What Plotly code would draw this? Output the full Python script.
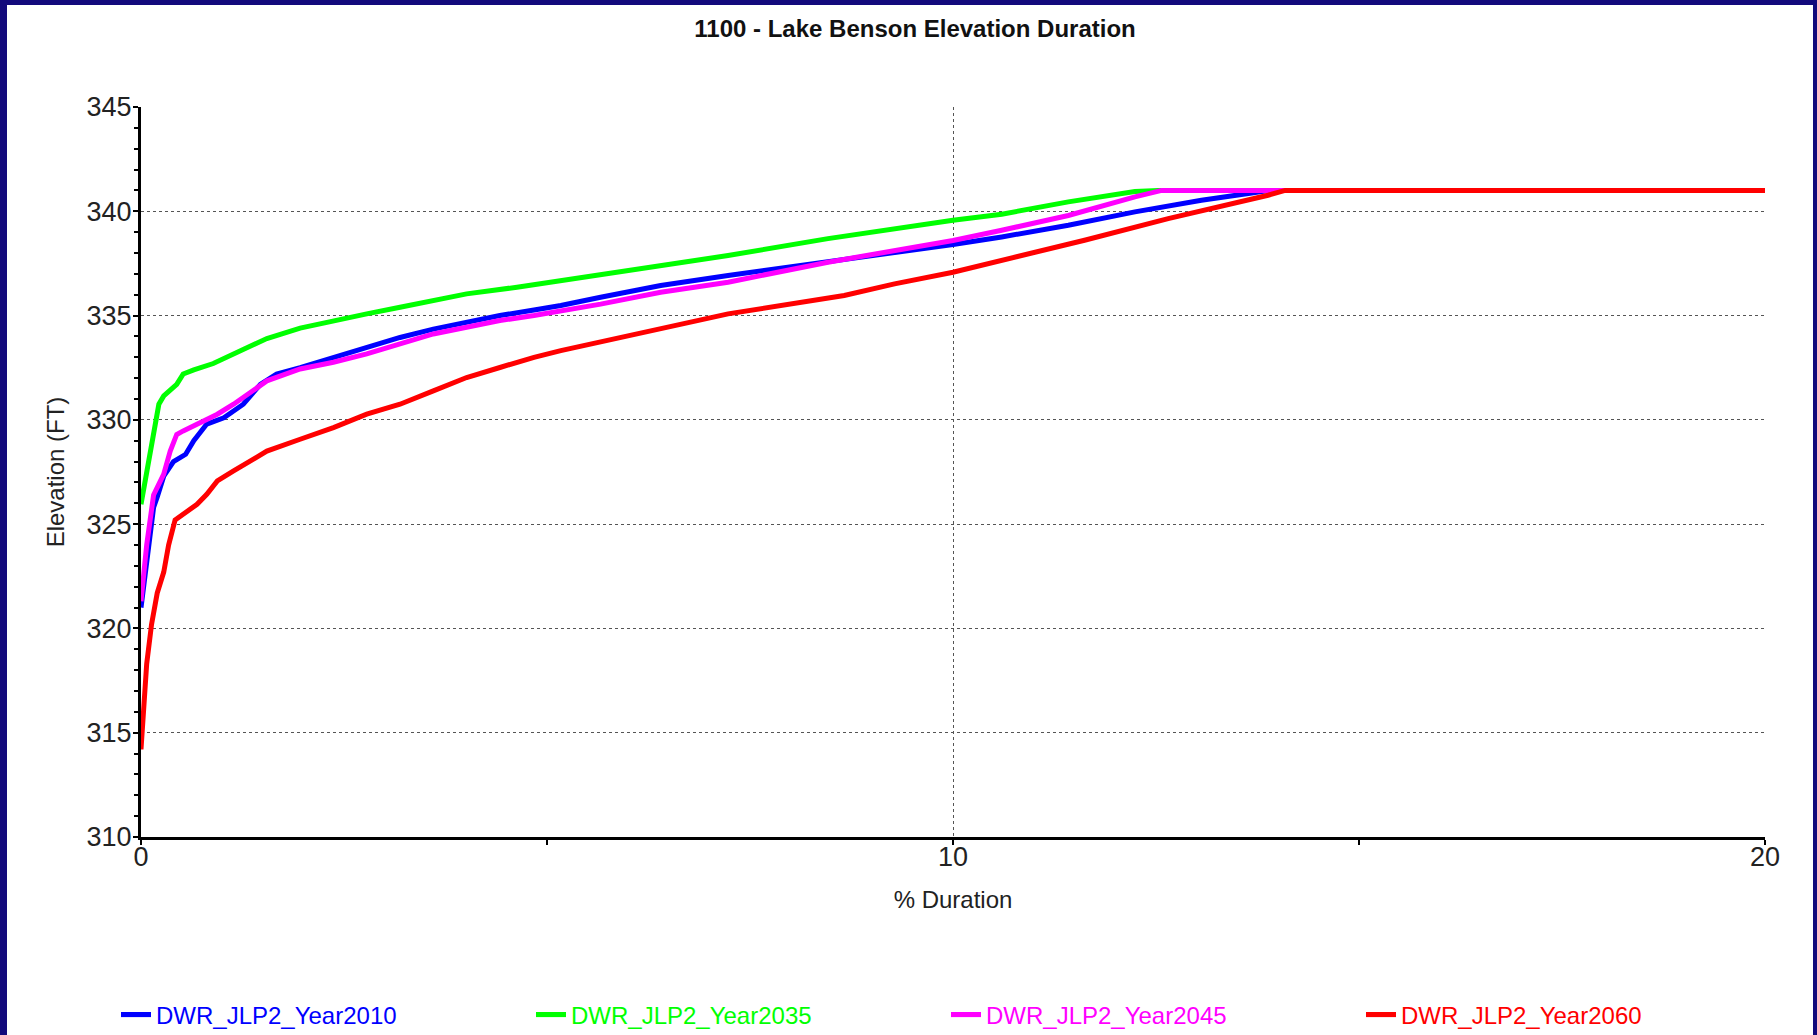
import plotly.graph_objects as go

# Elevation-duration curves for Lake Benson, four planning scenarios
series_names = ["DWR_JLP2_Year2010", "DWR_JLP2_Year2035", "DWR_JLP2_Year2045", "DWR_JLP2_Year2060"]
series_colors = ["#0000ff", "#00ff00", "#ff00ff", "#ff0000"]

dur_2010 = [0, 0.07, 0.155, 0.2, 0.28, 0.4, 0.55, 0.65, 0.81, 1.02, 1.26, 1.47, 1.67, 1.96, 2.37, 2.78,
            3.19, 3.6, 4.01, 4.42, 4.84, 5.17, 5.66, 6.4, 7.23, 8.46, 9.28, 10.0, 10.6, 11.42, 12.24,
            13.06, 13.68, 13.88, 20]
elev_2010 = [321.0, 323.4, 325.8, 326.3, 327.3, 328.0, 328.35, 329.0, 329.8, 330.1, 330.75, 331.7, 332.2,
             332.5, 333.0, 333.5, 333.95, 334.35, 334.7, 335.0, 335.27, 335.48, 335.88, 336.44, 336.92,
             337.56, 338.04, 338.41, 338.77, 339.33, 339.97, 340.53, 340.88, 341.0, 341.0]

dur_2035 = [0, 0.09, 0.115, 0.175, 0.22, 0.28, 0.44, 0.52, 0.65, 0.89, 1.14, 1.55, 1.96, 2.37, 2.78, 3.19,
            3.6, 4.01, 4.63, 5.17, 5.66, 6.4, 7.23, 8.46, 9.28, 10.0, 10.6, 11.42, 12.24, 12.53, 20]
elev_2035 = [325.95, 328.0, 328.5, 330.05, 330.75, 331.15, 331.7, 332.2, 332.4, 332.7, 333.15, 333.9,
             334.4, 334.76, 335.08, 335.4, 335.7, 336.04, 336.36, 336.68, 337.0, 337.4, 337.88, 338.69,
             339.17, 339.57, 339.86, 340.45, 340.95, 341.0, 341.0]

dur_2045 = [0, 0.07, 0.155, 0.24, 0.28, 0.36, 0.4, 0.44, 0.52, 0.73, 0.94, 1.14, 1.35, 1.55, 1.96, 2.37,
            2.78, 3.19, 3.6, 4.01, 4.42, 4.84, 5.17, 5.66, 6.4, 7.23, 8.46, 9.28, 10.0, 10.6, 11.42,
            12.24, 12.57, 20]
elev_2045 = [321.3, 324.0, 326.4, 327.0, 327.4, 328.5, 329.0, 329.3, 329.47, 329.87, 330.27, 330.75,
             331.31, 331.87, 332.44, 332.76, 333.16, 333.64, 334.12, 334.44, 334.76, 335.0, 335.2,
             335.55, 336.12, 336.6, 337.56, 338.12, 338.6, 339.09, 339.8, 340.69, 341.0, 341.0]

dur_2060 = [0, 0.07, 0.13, 0.2, 0.28, 0.34, 0.42, 0.56, 0.69, 0.81, 0.94, 1.14, 1.35, 1.55, 1.96, 2.37,
            2.78, 3.19, 3.6, 4.01, 4.42, 4.84, 5.17, 5.66, 6.4, 7.23, 8.66, 9.28, 10.0, 10.6, 11.62,
            12.65, 13.47, 13.88, 14.09, 20]
elev_2060 = [314.2, 318.3, 320.2, 321.7, 322.7, 324.0, 325.2, 325.6, 325.95, 326.43, 327.07, 327.55,
             328.03, 328.5, 329.07, 329.63, 330.27, 330.75, 331.39, 332.03, 332.51, 333.0, 333.32,
             333.75, 334.36, 335.08, 335.96, 336.52, 337.08, 337.64, 338.61, 339.65, 340.37, 340.77,
             341.0, 341.0]

durations = [dur_2010, dur_2035, dur_2045, dur_2060]
elevations = [elev_2010, elev_2035, elev_2045, elev_2060]

x_ticks = [0, 10, 20]
y_ticks = [310, 315, 320, 325, 330, 335, 340, 345]

FONT = "Liberation Sans, Arial, sans-serif"
W, H = 1817, 1035
ML, MR, MT, MB = 141, 52, 107, 198
PW, PH = W - ML - MR, H - MT - MB
NAVY = "#130a7c"

fig = go.Figure()
for name, color, xs, ys in zip(series_names, series_colors, durations, elevations):
    fig.add_trace(go.Scatter(
        x=xs, y=ys, mode="lines",
        name=f'<span style="color:{color}">{name}</span>',
        line=dict(color=color, width=5),
    ))


def px_x(px):
    return (px - ML) / PW


def px_y(py):
    return (H - MB - py) / PH


# dark frame on the left, top and right edges of the page
frame = [
    (px_x(-20), px_y(H + 20), px_x(7), px_y(-20)),
    (px_x(-20), px_y(5), px_x(W + 20), px_y(-20)),
    (px_x(W - 4), px_y(H + 20), px_x(W + 20), px_y(-20)),
]
shapes = [dict(type="rect", xref="paper", yref="paper", x0=a, y0=b, x1=c, y1=d,
               fillcolor=NAVY, line=dict(width=0), layer="below") for a, b, c, d in frame]

axis_common = dict(
    showline=True, linecolor="black", linewidth=3, mirror=False,
    ticks="outside", ticklen=5, tickwidth=2, tickcolor="black",
    showgrid=True, gridcolor="#555555", gridwidth=1, griddash="dot",
    zeroline=False,
    tickfont=dict(family=FONT, size=27, color="#222222"),
)

fig.update_layout(
    width=W, height=H,
    margin=dict(l=ML, r=MR, t=MT, b=MB, autoexpand=False),
    paper_bgcolor="white", plot_bgcolor="white",
    font=dict(family=FONT, color="#222222"),
    title=dict(text="<b>1100 - Lake Benson Elevation Duration</b>",
               font=dict(family=FONT, size=24, color="#111111"),
               x=0.5036, xanchor="center", xref="container",
               y=1 - 29 / H, yanchor="middle", yref="container"),
    xaxis=dict(range=[0, 20], tickvals=x_ticks, ticklabelstandoff=-11,
               minor=dict(dtick=5, ticks="outside", ticklen=5, tickwidth=2, tickcolor="black", showgrid=False),
               title=dict(text="% Duration", font=dict(family=FONT, size=24, color="#222222"), standoff=20),
               **axis_common),
    yaxis=dict(range=[310, 345], tickvals=y_ticks, ticklabelstandoff=-4,
               minor=dict(dtick=1, ticks="outside", ticklen=4, tickwidth=2, tickcolor="black", showgrid=False),
               title=dict(text="Elevation (FT)", font=dict(family=FONT, size=24, color="#222222"), standoff=16),
               **axis_common),
    legend=dict(orientation="h", x=px_x(116), xanchor="left", y=px_y(1015), yanchor="middle",
                entrywidth=370, entrywidthmode="pixels",
                font=dict(family=FONT, size=24), bgcolor="rgba(0,0,0,0)", borderwidth=0),
    shapes=shapes,
    showlegend=True,
)

fig.write_html("out.html")
